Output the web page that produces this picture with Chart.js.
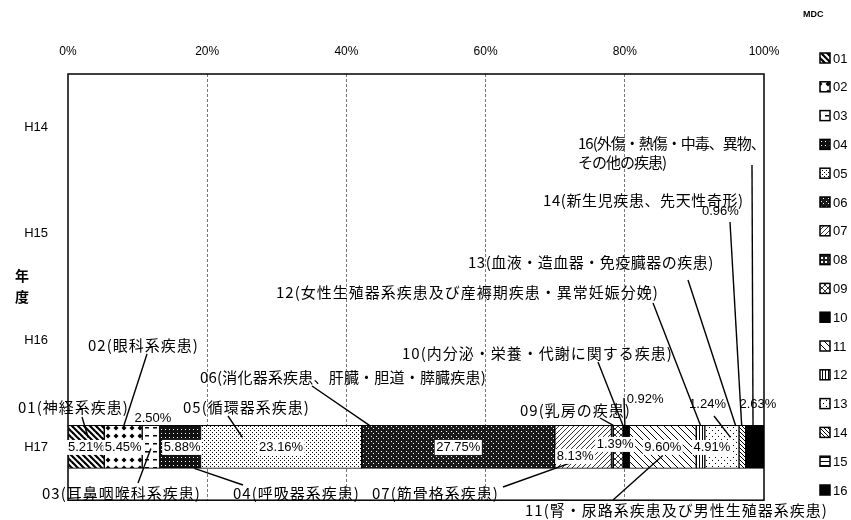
<!DOCTYPE html>
<html>
<head>
<meta charset="utf-8">
<title>MDC別構成比</title>
<script src="https://cdn.jsdelivr.net/npm/chart.js"></script>
<style>
  body { margin: 0; background: #fff; }
  #wrap { width: 851px; height: 520px; }
</style>
</head>
<body>
<div id="wrap"><canvas id="chart"></canvas></div>
<script>
// 年度とMDC別の構成比(%)
var years = ['H14', 'H15', 'H16', 'H17'];
var mdcCodes = ['01', '02', '03', '04', '05', '06', '07', '08', '09', '10', '11', '12', '13', '14', '15', '16'];
var shareH17 = [5.21, 5.45, 2.50, 5.88, 23.16, 27.75, 8.13, 0.27, 1.39, 0.92, 9.60, 1.24, 4.91, 0.96, 0, 2.63];
var xTicks = [0, 20, 40, 60, 80, 100];

var JP = '"Noto Sans CJK JP", sans-serif';
var LAT = '"Liberation Sans", Arial, sans-serif';
var dataRow = years.indexOf('H17');

// 吹き出し(ラベル位置と引き出し線)
var notes = [
  { text: '01(神経系疾患)', x: 18, y: 407, from: [82, 417], seg: 0, f: 0.55, edge: 'top', dy: 12 },
  { text: '02(眼科系疾患)', x: 88, y: 345, from: [147, 354], seg: 1, f: 0.5, edge: 'top', dy: 2 },
  { text: '03(耳鼻咽喉科系疾患)', x: 42, y: 493, from: [138, 483], seg: 2, f: 0.5, edge: 'bottom', dy: -20 },
  { text: '04(呼吸器系疾患)', x: 233, y: 493, from: [243, 485], seg: 3, f: 0.85, edge: 'bottom', dy: 0 },
  { text: '05(循環器系疾患)', x: 183, y: 407, from: [228, 416], seg: 4, f: 0.26, edge: 'top', dy: 12 },
  { text: '06(消化器系疾患、肝臓・胆道・膵臓疾患)', x: 200, y: 377, from: [312, 386], seg: 5, f: 0.04, edge: 'top', dy: 0, sp: 0.2 },
  { text: '07(筋骨格系疾患)', x: 372, y: 493, from: [503, 487], seg: 6, f: 0.5, edge: 'bottom', dy: -10 },
  { text: '09(乳房の疾患)', x: 520, y: 410, from: [600, 418], seg: 8, f: 0, edge: 'top', dy: 0 },
  { text: '10(内分泌・栄養・代謝に関する疾患)', x: 402, y: 353, from: [598, 362], seg: 9, f: 0, edge: 'top', dy: 0 },
  { text: '11(腎・尿路系疾患及び男性生殖器系疾患)', x: 525, y: 510, from: [613, 500], seg: 10, f: 0.5, edge: 'bottom', dy: -13 },
  { text: '12(女性生殖器系疾患及び産褥期疾患・異常妊娠分娩)', x: 276, y: 292, from: [653, 303], seg: 11, f: 0.5, edge: 'top', dy: 0 },
  { text: '13(血液・造血器・免疫臓器の疾患)', x: 468, y: 262, from: [688, 280], seg: 12, f: 0.9, edge: 'top', dy: 0, sp: 0.5 },
  { text: '14(新生児疾患、先天性奇形)', x: 543, y: 200, from: [730, 222], seg: 13, f: 0.4, edge: 'top', dy: 0, sp: 0.6 },
  { text: '16(外傷・熱傷・中毒、異物、\nその他の疾患)', x: 578, y: 143, from: [752, 165], seg: 15, f: 0.4, edge: 'top', dy: 0, sp: -1 },
  { text: '', from: [624, 398], seg: 9, f: 0.3, edge: 'top', dy: 0 },
  { text: '', from: [714, 416], seg: 12, f: 0.75, edge: 'top', dy: 12 }
];

// 数値ラベルの置き場所(セグメント中心からのずれ)
var valueLabels = [
  { seg: 0, dx: 0, dy: 0, box: true },
  { seg: 1, dx: 0, dy: 0, box: true },
  { seg: 2, dx: 2, dy: -29 },
  { seg: 3, dx: 2, dy: 0, box: true },
  { seg: 4, dx: 0, dy: 0, box: true },
  { seg: 5, dx: 0, dy: 0, box: true },
  { seg: 6, dx: -8, dy: 9, box: true },
  { seg: 8, dx: -3, dy: -3, box: true },
  { seg: 9, dx: 19, dy: -48 },
  { seg: 10, dx: 0, dy: 0, box: true },
  { seg: 11, dx: 7, dy: -43 },
  { seg: 12, dx: -10, dy: 0, box: true },
  { seg: 13, dx: -22, dy: -236 },
  { seg: 15, dx: 3, dy: -43 }
];

// 網掛けパターン
function pattern(size, bg, draw) {
  var c = document.createElement('canvas');
  c.width = size; c.height = size;
  var g = c.getContext('2d');
  g.fillStyle = bg; g.fillRect(0, 0, size, size);
  g.fillStyle = '#000'; g.strokeStyle = '#000';
  draw(g, size);
  return g.createPattern(c, 'repeat');
}
function ln(g, x1, y1, x2, y2) { g.beginPath(); g.moveTo(x1, y1); g.lineTo(x2, y2); g.stroke(); }
function back(g, s, w) { g.lineWidth = w; ln(g, -1, -1, s + 1, s + 1); ln(g, -1, s - 1, 1, s + 1); ln(g, s - 1, -1, s + 1, 1); }
function fwd(g, s, w) { g.lineWidth = w; ln(g, -1, s + 1, s + 1, -1); ln(g, -1, 1, 1, -1); ln(g, s - 1, s + 1, s + 1, s - 1); }

var fills = [
  pattern(6, '#fff', function (g, s) { back(g, s, 2.2); }),
  pattern(8, '#fff', function (g) { g.beginPath(); g.moveTo(4, 1.5); g.lineTo(6.5, 4); g.lineTo(4, 6.5); g.lineTo(1.5, 4); g.fill(); }),
  pattern(8, '#fff', function (g) { g.fillRect(1, 3, 4, 1.5); }),
  pattern(4, '#111', function (g) { g.fillStyle = '#fff'; g.fillRect(1, 1, 1, 1); }),
  pattern(4, '#fff', function (g) { g.fillRect(0, 0, 1, 1); g.fillRect(2, 2, 1, 1); }),
  pattern(5, '#1a1a1a', function (g) { g.fillStyle = '#fff'; g.fillRect(1, 1, 1, 1); g.fillRect(3, 3, 1, 1); }),
  pattern(5, '#fff', function (g, s) { fwd(g, s, 0.8); }),
  pattern(4, '#222', function (g) { g.fillStyle = '#fff'; g.fillRect(1, 1, 2, 2); }),
  pattern(6, '#fff', function (g, s) { back(g, s, 0.8); fwd(g, s, 0.8); }),
  '#000',
  pattern(7, '#fff', function (g, s) { back(g, s, 1); }),
  pattern(3, '#fff', function (g) { g.fillRect(0, 0, 1, 3); }),
  pattern(6, '#fff', function (g) { g.fillRect(1, 1, 1, 1); g.fillRect(4, 4, 1, 1); }),
  pattern(4, '#fff', function (g, s) { back(g, s, 1); }),
  pattern(4, '#fff', function (g) { g.fillRect(0, 1, 4, 1); }),
  '#000'
];

var datasets = mdcCodes.map(function (code, i) {
  return {
    label: code,
    data: years.map(function (y, k) { return k === dataRow ? shareH17[i] : null; }),
    backgroundColor: fills[i],
    borderColor: '#000',
    borderWidth: 1,
    borderSkipped: false,
    barThickness: 43
  };
});

function segBox(chart, i) {
  var el = chart.getDatasetMeta(i).data[dataRow];
  var p = el.getProps(['x', 'y', 'base', 'height'], true);
  return {
    left: Math.min(p.x, p.base), right: Math.max(p.x, p.base),
    cy: p.y, top: p.y - p.height / 2, bottom: p.y + p.height / 2
  };
}

var overlay = {
  id: 'overlay',
  afterDatasetsDraw: function (chart) {
    var ctx = chart.ctx, ca = chart.chartArea;
    ctx.save();
    // 枠
    ctx.strokeStyle = '#000';
    ctx.lineWidth = 1.5;
    ctx.strokeRect(ca.left, ca.top, ca.right - ca.left, ca.bottom - ca.top);

    // 引き出し線
    ctx.lineWidth = 1.4;
    notes.forEach(function (n) {
      var b = segBox(chart, n.seg);
      var ex = b.left + (b.right - b.left) * n.f;
      var ey = (n.edge === 'top' ? b.top : b.bottom) + n.dy;
      ln(ctx, n.from[0], n.from[1], ex, ey);
    });

    // 数値ラベル
    ctx.font = '13px ' + LAT;
    ctx.textAlign = 'center';
    ctx.textBaseline = 'middle';
    valueLabels.forEach(function (v) {
      var b = segBox(chart, v.seg);
      var t = shareH17[v.seg].toFixed(2) + '%';
      var x = (b.left + b.right) / 2 + v.dx;
      var y = b.cy + v.dy;
      if (v.box) {
        var w = ctx.measureText(t).width + 3;
        ctx.fillStyle = '#fff';
        ctx.fillRect(x - w / 2, y - 7, w, 15);
      }
      ctx.fillStyle = '#000';
      ctx.fillText(t, x, y);
    });

    // 吹き出しの文字
    ctx.font = '15px ' + JP;
    ctx.textAlign = 'left';
    notes.forEach(function (n) {
      if (!n.text) return;
      if ('letterSpacing' in ctx) ctx.letterSpacing = (n.sp === undefined ? 1 : n.sp) + 'px';
      n.text.split('\n').forEach(function (line, k) {
        ctx.fillText(line, n.x, n.y + k * 19);
      });
    });
    ctx.restore();
  },
  afterDraw: function (chart) {
    var ctx = chart.ctx;
    ctx.save();
    ctx.fillStyle = '#000';
    ctx.textBaseline = 'middle';
    // 凡例
    ctx.font = 'bold 9px ' + LAT;
    ctx.textAlign = 'left';
    ctx.fillText('MDC', 803, 15);
    ctx.font = '13px ' + LAT;
    mdcCodes.forEach(function (code, i) {
      var y = 58 + i * 28.8;
      ctx.fillStyle = fills[i];
      ctx.fillRect(820, y - 5, 10, 10);
      ctx.strokeStyle = '#000';
      ctx.lineWidth = 1.5;
      ctx.strokeRect(820, y - 5, 10, 10);
      ctx.fillStyle = '#000';
      ctx.fillText(code, 833, y + 1);
    });
    // 縦軸タイトル
    ctx.font = 'bold 14px ' + JP;
    ctx.textAlign = 'center';
    ctx.fillText('年', 22, 276);
    ctx.fillText('度', 22, 297);
    ctx.restore();
  }
};

new Chart(document.getElementById('chart'), {
  type: 'bar',
  data: { labels: years, datasets: datasets },
  options: {
    responsive: true,
    maintainAspectRatio: false,
    animation: false,
    indexAxis: 'y',
    layout: { padding: { left: 0, top: 0, right: 87, bottom: 15 } },
    plugins: { legend: { display: false }, tooltip: { enabled: false } },
    scales: {
      x: {
        position: 'top',
        stacked: true,
        min: 0,
        max: 100,
        afterBuildTicks: function (s) { s.ticks = xTicks.map(function (v) { return { value: v }; }); },
        afterFit: function (s) { s.height = 74; },
        ticks: {
          padding: 15, color: '#000', maxRotation: 0, autoSkip: false,
          font: { size: 12, family: LAT },
          callback: function (v) { return v + '%'; }
        },
        grid: {
          drawTicks: false,
          lineWidth: 1,
          color: function (c) {
            return (c.tick && (c.tick.value === 0 || c.tick.value === 100)) ? 'rgba(0,0,0,0)' : '#777';
          }
        },
        border: { display: false, dash: [3, 2] }
      },
      y: {
        stacked: true,
        afterFit: function (s) { s.width = 68; },
        ticks: { padding: 12, color: '#000', font: { size: 13, family: LAT } },
        grid: { display: false },
        border: { display: false }
      }
    }
  },
  plugins: [overlay]
});
</script>
</body>
</html>
